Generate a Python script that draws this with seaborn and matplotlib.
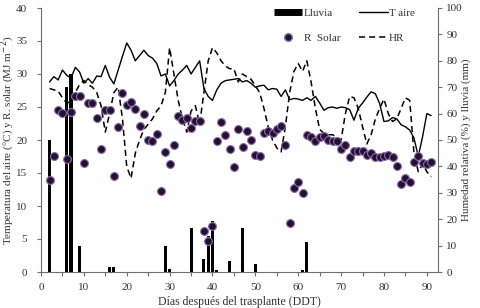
import numpy as np
import pandas as pd
import matplotlib
matplotlib.use("Agg")
import matplotlib.pyplot as plt
from matplotlib.lines import Line2D
import seaborn as sns

# days after transplant (DDT)
dias = list(range(2, 92))

# air temperature (C)
t_aire = [28.8, 29.6, 29.1, 30.6, 29.8, 29.4, 31.0, 30.3, 28.6, 29.3,
          28.6, 29.7, 29.6, 31.3, 29.5, 28.5, 30.6, 32.7, 34.7, 33.6,
          32.0, 32.8, 33.6, 32.8, 32.4, 31.6, 29.7, 30.0, 28.2, 29.0,
          30.0, 30.6, 31.3, 30.0, 31.0, 32.0, 27.8, 26.6, 26.0, 27.6,
          28.6, 29.0, 29.1, 29.2, 29.3, 28.8, 29.0, 28.6, 28.0, 28.2,
          28.3, 27.6, 27.8, 27.7, 26.6, 27.6, 26.1, 26.3, 26.2, 26.0,
          26.4, 26.0, 26.6, 25.6, 24.5, 24.9, 25.0, 24.8, 25.0, 24.9,
          24.6, 23.0, 24.8, 25.6, 26.5, 27.3, 27.0, 25.5, 22.8, 22.9,
          23.4, 23.2, 22.3, 22.0, 21.5, 20.3, 17.5, 20.5, 24.0, 23.7]

# relative humidity (%)
hr = [69.5, 69.0, 68.5, 66.0, 64.0, 64.5, 68.0, 71.0, 72.5, 71.0,
      70.0, 68.0, 63.0, 53.0, 60.0, 68.0, 70.0, 58.0, 40.0, 35.5,
      45.0, 50.0, 54.0, 56.0, 58.0, 61.0, 63.0, 68.0, 85.0, 75.0,
      65.0, 58.0, 53.0, 61.0, 63.0, 56.0, 68.0, 80.0, 85.0, 83.0,
      80.0, 78.0, 77.0, 77.0, 72.0, 75.0, 74.0, 73.0, 70.5, 68.0,
      62.0, 55.0, 50.0, 47.0, 45.5, 55.0, 68.0, 76.0, 79.0, 76.0,
      80.0, 72.0, 62.0, 54.0, 52.5, 52.0, 52.0, 51.0, 50.0, 60.0,
      66.5, 66.0, 62.0, 55.0, 48.5, 52.0, 58.0, 62.0, 65.5, 60.0,
      57.0, 58.0, 62.0, 66.0, 65.0, 45.0, 38.0, 41.0, 38.0, 36.0]

# solar radiation (MJ m-2)
r_solar = [13.9, 17.6, 24.5, 24.1, 17.1, 24.2, 26.7, 26.7, 16.5, 25.6,
           25.6, 23.4, 18.7, 24.6, 24.6, 14.5, 21.9, 27.1, 25.3, 25.7,
           24.7, 22.1, 24.0, 20.0, 19.9, 20.9, 12.3, 18.2, 16.4, 19.2,
           23.7, 23.1, 23.4, 21.8, 22.9, 22.9, 6.2, 4.7, 6.9, 19.9,
           22.8, 20.8, 18.7, 15.9, 21.6, 19.0, 21.3, 20.0, 17.7, 17.6,
           21.1, 21.4, 21.1, 21.6, 22.1, 19.2, 7.5, 12.8, 13.7, 11.9,
           20.8, 20.4, 19.9, 20.4, 20.6, 20.0, 19.8, 19.9, 18.6, 19.2,
           17.4, 18.4, 18.4, 18.4, 17.7, 18.0, 17.4, 17.5, 17.6, 17.8,
           17.5, 16.0, 13.4, 14.2, 13.6, 16.7, 17.6, 16.5, 16.4, 16.7]

# rainfall (mm)
dias_lluvia = [2, 6, 7, 9, 16, 17, 29, 30, 35, 38, 39, 40, 41, 44, 47, 50, 61, 62]
lluvia = [50, 70, 75, 10, 2, 2, 10, 1, 16.5, 5, 13.8, 19.5, 0.8, 4.3, 16.8, 3, 0.8, 11.3]

clima = pd.DataFrame({"dia": dias, "t_aire": t_aire, "hr": hr, "r_solar": r_solar})
df_lluvia = pd.DataFrame({"dia": dias_lluvia, "lluvia": lluvia})

sns.set_theme(style="white")
plt.rcParams["font.family"] = ["Liberation Serif", "DejaVu Serif"]
txt_color = "#333333"
spine_color = "#6e6e6e"
fs = 8

fig = plt.figure(figsize=(4.81, 3.08), dpi=100)
ax1 = fig.add_axes([41 / 481, 36 / 308, 397 / 481, 264 / 308])
ax2 = ax1.twinx()

# right axis: rain bars + relative humidity
ax2.bar(df_lluvia["dia"], df_lluvia["lluvia"], width=0.72, color="black", linewidth=0)
sns.lineplot(data=clima, x="dia", y="hr", ax=ax2, color="black", linewidth=1.1,
             linestyle=(0, (4, 2.6)))

# left axis: temperature + solar radiation
sns.lineplot(data=clima, x="dia", y="t_aire", ax=ax1, color="black", linewidth=1.0)
sns.scatterplot(data=clima, x="dia", y="r_solar", ax=ax1, s=32, color="#24102f",
                edgecolor="#8a6bb0", linewidth=0.8, zorder=3)

ax1.set_zorder(ax2.get_zorder() + 1)
ax1.patch.set_visible(False)

ax1.set_xlim(0, 92.6)
ax1.set_ylim(0, 40)
ax2.set_ylim(0, 100)
ax1.set_xticks(np.arange(0, 95, 5))
ax1.set_xticklabels([str(v) if v % 10 == 0 else "" for v in range(0, 95, 5)])
ax1.set_yticks(np.arange(0, 45, 5))
ax2.set_yticks(np.arange(0, 110, 10))

ax1.set_xlabel("Días después del trasplante (DDT)", fontsize=fs + 0.5, color=txt_color, labelpad=3)
ax1.set_ylabel("Temperatura del aire (°C) y R. solar (MJ m$^{-2}$)", fontsize=fs, color=txt_color)
ax2.set_ylabel("Humedad relativa (%) y lluvia (mm)", fontsize=fs, color=txt_color)
ax1.yaxis.set_label_coords(-0.061, 0.5)
ax2.yaxis.set_label_coords(1.058, 0.5)

for ax in (ax1, ax2):
    for s in ax.spines.values():
        s.set_visible(False)
    ax.tick_params(labelsize=fs, colors=txt_color, length=3, width=0.8, direction="out")
    ax.tick_params(color=spine_color)
ax1.spines["left"].set_visible(True)
ax1.spines["bottom"].set_visible(True)
ax2.spines["right"].set_visible(True)
for s in (ax1.spines["left"], ax1.spines["bottom"], ax2.spines["right"]):
    s.set_color(spine_color)
    s.set_linewidth(0.8)
ax1.tick_params(axis="y", left=True, pad=7)
ax1.tick_params(axis="x", bottom=True, pad=5)
ax2.tick_params(axis="y", right=True, pad=3)
ax1.grid(False)
ax2.grid(False)

handles = [
    Line2D([], [], color="black", linewidth=5, solid_capstyle="butt"),
    Line2D([], [], linestyle="none", marker="o", markersize=5.5,
           markerfacecolor="#24102f", markeredgecolor="#8a6bb0"),
    Line2D([], [], color="black", linewidth=1.0),
    Line2D([], [], color="black", linewidth=1.1, linestyle=(0, (4, 2.6))),
]
labels = ["Lluvia", "R  Solar", "T aire", "HR"]
leg = ax1.legend(handles, labels, ncol=2, loc="upper left",
                 bbox_to_anchor=(268 / 481, 1 - 3 / 308), bbox_transform=fig.transFigure,
                 frameon=False, fontsize=fs, handlelength=2.6, handletextpad=0.1,
                 columnspacing=1.7, labelspacing=1.3, borderpad=0, numpoints=1)
for t in leg.get_texts():
    t.set_color(txt_color)

fig.savefig("out.png", dpi=100)
